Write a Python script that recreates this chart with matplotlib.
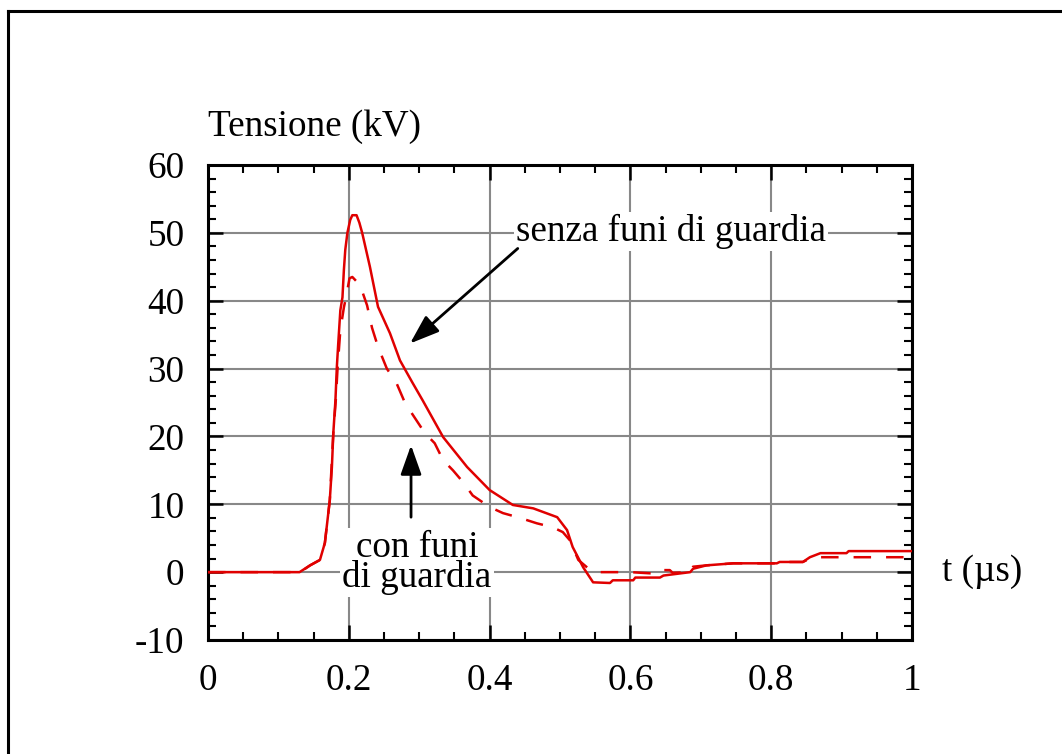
import matplotlib
matplotlib.use("Agg")
import matplotlib.pyplot as plt
from matplotlib.lines import Line2D
from matplotlib.ticker import MultipleLocator, FixedLocator

plt.rcParams['font.family'] = ['Liberation Serif', 'DejaVu Serif']
plt.rcParams['axes.unicode_minus'] = False

# senza funi di guardia (solid)
t_senza = [0, 0.130, 0.145, 0.159, 0.166, 0.173, 0.176, 0.178, 0.181, 0.183, 0.185,
           0.188, 0.191, 0.193, 0.195, 0.198, 0.202, 0.205, 0.211, 0.215, 0.219,
           0.230, 0.2415, 0.2585, 0.2727, 0.290, 0.305, 0.334, 0.368, 0.400, 0.433,
           0.462, 0.496, 0.510, 0.518, 0.533, 0.547, 0.571, 0.575, 0.604, 0.607,
           0.642, 0.647, 0.685, 0.689, 0.708, 0.746, 0.808, 0.812, 0.845, 0.855,
           0.870, 0.907, 0.910, 1.0]
v_senza = [0, 0, 1.0, 1.8, 4.3, 10.6, 15.5, 20.5, 25.3, 30.2, 33.7,
           38.6, 40.5, 44.5, 47.5, 50.0, 51.9, 52.6, 52.6, 51.5, 50.0,
           45.0, 39.1, 35.2, 31.2, 28.0, 25.3, 19.9, 15.5, 12.1, 9.9,
           9.4, 8.1, 6.2, 3.7, 0.7, -1.5, -1.6, -1.2, -1.2, -0.8,
           -0.8, -0.5, 0, 0.5, 1.0, 1.3, 1.3, 1.5, 1.5, 2.2,
           2.8, 2.8, 3.1, 3.1]

# con funi di guardia (dashed)
t_con = [0, 0.131, 0.145, 0.159, 0.166, 0.173, 0.178, 0.1815, 0.184, 0.1875, 0.190,
         0.193, 0.197, 0.201, 0.205, 0.216, 0.226, 0.233, 0.2415, 0.254, 0.268,
         0.280, 0.294, 0.308, 0.322, 0.334, 0.348, 0.362, 0.376, 0.400, 0.419,
         0.443, 0.467, 0.490, 0.504, 0.514, 0.526, 0.543, 0.550, 0.571, 0.600,
         0.632, 0.637, 0.656, 0.660, 0.685, 0.689, 0.708, 0.746, 0.808, 0.812,
         0.845, 0.855, 0.870, 1.0]
v_con = [0, 0, 1.0, 1.8, 4.3, 10.6, 20.5, 25.3, 30.0, 35.0, 37.0,
         39.0, 41.0, 43.3, 43.5, 42.3, 39.3, 36.0, 33.2, 30.0, 27.8,
         24.9, 22.7, 20.5, 19.0, 16.5, 15.0, 13.3, 11.3, 9.6, 8.7,
         8.0, 7.2, 6.6, 5.9, 4.7, 1.8, 0.3, 0, 0, 0,
         -0.2, 0.3, 0.3, -0.1, 0, 0.8, 1.0, 1.3, 1.3, 1.5,
         1.5, 2.0, 2.2, 2.2]

x_ticks = [0, 0.2, 0.4, 0.6, 0.8, 1]
x_ticklabels = ['0', '0.2', '0.4', '0.6', '0.8', '1']
y_ticks = [-10, 0, 10, 20, 30, 40, 50, 60]
y_ticklabels = ['-10', '0', '10', '20', '30', '40', '50', '60']

RED = '#e00000'
FS = 26.7

fig = plt.figure(figsize=(10.62, 7.54), dpi=100)
ax = fig.add_axes([208/1062, 114/754, 704/1062, 475/754])

ax.plot(t_senza, v_senza, color=RED, lw=1.8, zorder=3)
ax.plot(t_con, v_con, color=RED, lw=1.8, linestyle=(0, (7, 6)), zorder=3)

ax.set_xlim(0, 1)
ax.set_ylim(-10, 60)
ax.xaxis.set_major_locator(FixedLocator(x_ticks))
ax.set_xticklabels(x_ticklabels)
ax.yaxis.set_major_locator(FixedLocator(y_ticks))
ax.set_yticklabels(y_ticklabels)
ax.xaxis.set_minor_locator(MultipleLocator(0.05))
ax.yaxis.set_minor_locator(MultipleLocator(2))
ax.tick_params(which='both', direction='in', top=True, right=True, colors='black',
               labelsize=FS)
ax.tick_params(which='major', length=11, width=1.8, pad=17)
ax.tick_params(which='minor', length=5.8, width=1.5)
for s in ax.spines.values():
    s.set_linewidth(2.2)
ax.grid(True, which='major', color='#888888', lw=1.5, zorder=1)
ax.set_axisbelow(True)

ax.text(0, 1.045, 'Tensione (kV)', transform=ax.transAxes, fontsize=FS,
        ha='left', va='bottom')
ax.text(1.043, 0, 't (µs)', fontsize=FS, ha='left', va='center')

ax.text(0.658, 50.2, 'senza funi di guardia', fontsize=FS, ha='center', va='center',
        zorder=5, bbox=dict(facecolor='white', edgecolor='none', pad=1.5))
ax.text(0.297, 1.4, 'con funi\ndi guardia', fontsize=FS, ha='center', va='center',
        linespacing=0.8, zorder=5,
        bbox=dict(facecolor='white', edgecolor='none', pad=2))

arrow_kw = dict(arrowstyle='-|>,head_length=0.9,head_width=0.32', color='black',
                lw=2, mutation_scale=20, shrinkA=0, shrinkB=0)
ax.annotate('', xy=(0.287, 33.7), xytext=(0.440, 47.7), arrowprops=arrow_kw, zorder=6)
ax.annotate('', xy=(0.2884, 18.7), xytext=(0.2884, 8.1), arrowprops=arrow_kw, zorder=6)

# outer frame (left and top edges visible)
fig.add_artist(Line2D([7.5/1062, 7.5/1062], [-0.05, 1 - 10.5/754], color='black',
                      lw=2.2, transform=fig.transFigure))
fig.add_artist(Line2D([7.5/1062, 1.05], [1 - 10.5/754, 1 - 10.5/754], color='black',
                      lw=2.2, transform=fig.transFigure))

fig.savefig('out.png', dpi=100)
